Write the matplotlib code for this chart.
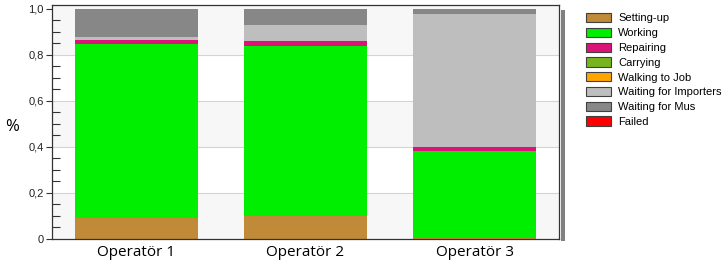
import numpy as np
import matplotlib
matplotlib.use("Agg")
from matplotlib import pyplot as plt
from matplotlib.patches import Rectangle, Patch

# data (fraction of time per state)
operators = ["Operatör 1", "Operatör 2", "Operatör 3"]
states = ["Setting-up", "Working", "Repairing", "Carrying", "Walking to Job",
          "Waiting for Importers", "Waiting for Mus", "Failed"]
setting_up = [0.093, 0.100, 0.003]
working = [0.756, 0.740, 0.378]
repairing = [0.017, 0.020, 0.018]
carrying = [0.0, 0.0, 0.0]
walking = [0.0, 0.0, 0.0]
waiting_importers = [0.011, 0.070, 0.578]
waiting_mus = [0.123, 0.070, 0.023]
failed = [0.0, 0.0, 0.0]
yticks = [0, 0.2, 0.4, 0.6, 0.8, 1.0]
yticklabels = ["0", "0,2", "0,4", "0,6", "0,8", "1,0"]

colors = ["#C08A38", "#00EE00", "#DC1478", "#78B41E", "#FFA500",
          "#BEBEBE", "#878787", "#FF0000"]
series = [setting_up, working, repairing, carrying, walking,
          waiting_importers, waiting_mus, failed]

fig = plt.figure(figsize=(7.28, 2.66), dpi=100)
W, H = 728, 266
ax = fig.add_axes([52/W, 1-239/H, (559-52)/W, (239-5)/H])
ax.set_xlim(-0.5, 2.5)
ax.set_ylim(0, 1.017)

# alternating background bands
ax.set_facecolor("white")
for i in range(5):
    if i % 2 == 0:
        ax.axhspan(i*0.2, (i+1)*0.2 if i < 4 else 1.017, color="#F7F7F7", zorder=0, lw=0)
for y in yticks[1:-1]:
    ax.axhline(y, color="#D4D4D4", lw=0.8, zorder=0.5)

x = np.arange(len(operators))
bottom = np.zeros(len(operators))
for vals, c in zip(series, colors):
    ax.bar(x, vals, bottom=bottom, width=0.73, color=c, lw=0, zorder=2)
    bottom += np.array(vals)

ax.set_xticks(x)
ax.set_xticklabels(operators, fontsize=11, family="Open Sans")
ax.tick_params(axis="x", length=0, pad=4)
ax.set_yticks(yticks)
ax.set_yticklabels(yticklabels, fontsize=8, family="Liberation Sans", color="#222222")
ax.set_yticks(np.arange(0.05, 1.0, 0.05), minor=True)
ax.tick_params(axis="y", which="major", direction="out", length=4, width=0.8, color="#333333", pad=2)
ax.tick_params(axis="y", which="minor", direction="in", length=6, width=0.8, color="#333333")
ax.set_ylabel("%", rotation=0, fontsize=12, family="Open Sans", va="center", ha="center")
ax.yaxis.set_label_coords(-0.079, 0.48)
for s in ax.spines.values():
    s.set_color("#333333")
    s.set_linewidth(0.9)

# shadow on the right edge of the plot frame
fig.patches.append(Rectangle((560.5/W, 1-241/H), 4/W, 231/H, transform=fig.transFigure,
                             facecolor="#808080", edgecolor="none"))

handles = [Patch(facecolor=c, edgecolor="#404040", lw=0.8) for c in colors]
fig.legend(handles, states, loc="upper left", bbox_to_anchor=(586/W, 1-13/H),
           bbox_transform=fig.transFigure, frameon=False, borderpad=0, borderaxespad=0,
           handlelength=2.25, handleheight=0.9, handletextpad=0.65, labelspacing=0.39,
           prop={"family": "Liberation Sans", "size": 8})

fig.savefig("out.png", dpi=100)
